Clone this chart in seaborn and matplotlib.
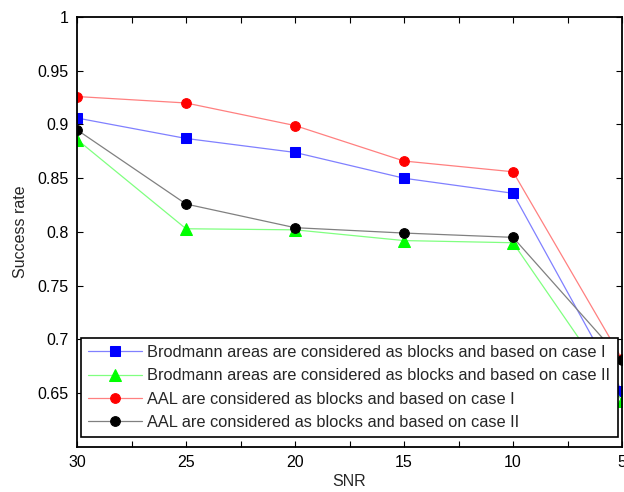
import numpy as np
import pandas as pd
import matplotlib
matplotlib.use('Agg')
import matplotlib.pyplot as plt
from matplotlib.ticker import MultipleLocator
import seaborn as sns

sns.set_theme(style='white')
plt.rcParams['font.family'] = ['Liberation Sans', 'DejaVu Sans']

snr = [30, 25, 20, 15, 10, 5]
brod_case1 = [0.906, 0.887, 0.874, 0.850, 0.836, 0.652]
brod_case2 = [0.886, 0.803, 0.802, 0.792, 0.790, 0.643]
aal_case1 = [0.926, 0.920, 0.899, 0.866, 0.856, 0.682]
aal_case2 = [0.895, 0.826, 0.804, 0.799, 0.795, 0.681]

labels = [
    'Brodmann areas are considered as blocks and based on case I',
    'Brodmann areas are considered as blocks and based on case II',
    'AAL are considered as blocks and based on case I',
    'AAL are considered as blocks and based on case II',
]

# (values, line colour, marker colour, marker, marker size)
series = [
    (brod_case1, '#8080ff', '#0000ff', 's', 6.5),
    (brod_case2, '#80ff80', '#00ff00', '^', 8.5),
    (aal_case1, '#ff8080', '#ff0000', 'o', 7),
    (aal_case2, '#808080', '#000000', 'o', 7),
]

fig = plt.figure(figsize=(6.24, 4.92), dpi=100)
ax = fig.add_axes([0.1234, 0.0915, 0.8734, 0.874])

for (vals, lc, mc, mk, ms), lab in zip(series, labels):
    df = pd.DataFrame({'SNR': snr, 'rate': vals})
    sns.lineplot(data=df, x='SNR', y='rate', ax=ax, color=lc, linewidth=0.9,
                 marker=mk, markersize=ms, markerfacecolor=mc, markeredgecolor=mc,
                 label=lab)

ax.set_xlim(30, 5)
ax.set_ylim(0.6, 1.0)
ax.set_xticks([30, 25, 20, 15, 10, 5])
ax.set_xticklabels(['30', '25', '20', '15', '10', '5'])
ax.xaxis.set_minor_locator(MultipleLocator(2.5))
ax.set_yticks(np.arange(0.65, 1.001, 0.05))
ax.set_yticklabels(['0.65', '0.7', '0.75', '0.8', '0.85', '0.9', '0.95', '1'])

ax.tick_params(axis='both', which='both', direction='in', top=True, right=True,
               bottom=True, left=True, labelsize=11.5, colors='black',
               length=4, width=0.8, pad=6)
for s in ax.spines.values():
    s.set_color('black')
    s.set_linewidth(1.3)

ax.set_xlabel('SNR', fontsize=11.5, labelpad=3)
ax.set_ylabel('Success rate', fontsize=11.5, labelpad=7)

leg = ax.legend(loc='lower left', bbox_to_anchor=(0.007, 0.023), fontsize=11.8,
                frameon=True, fancybox=False, edgecolor='black', framealpha=1,
                handlelength=3.3, handletextpad=0.3, labelspacing=0.5,
                borderaxespad=0, borderpad=0.45)
leg.get_frame().set_linewidth(1.2)

fig.savefig('out.png', dpi=100)
